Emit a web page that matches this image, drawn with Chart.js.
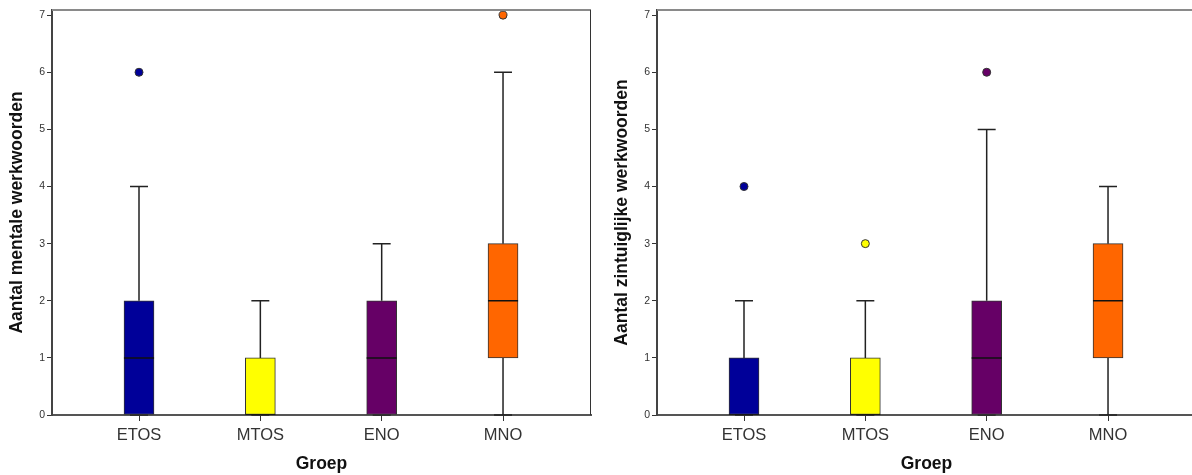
<!DOCTYPE html>
<html>
<head>
<meta charset="utf-8">
<script src="https://cdn.jsdelivr.net/npm/chart.js@4/dist/chart.umd.min.js"></script>
<style>
  html, body { margin: 0; padding: 0; background: #fff; overflow: hidden; width: 1192px; height: 475px; }
  canvas { position: absolute; top: 0; }
  #links { left: 0; }
  #rechts { left: 605px; }
</style>
</head>
<body>
<canvas id="links" width="600" height="475"></canvas>
<canvas id="rechts" width="600" height="475"></canvas>
<script>
const groepen = ["ETOS", "MTOS", "ENO", "MNO"];
const kleuren = ["#000099", "#ffff00", "#660066", "#ff6600"];
const yTicks = [0, 1, 2, 3, 4, 5, 6, 7];

// Aantal mentale werkwoorden
const mentaalMin = [0, 0, 0, 0];
const mentaalQ1 = [0, 0, 0, 1];
const mentaalMediaan = [1, 0, 1, 2];
const mentaalQ3 = [2, 1, 2, 3];
const mentaalMax = [4, 2, 3, 6];
const mentaalUitschieters = [[6], [], [], [7]];

// Aantal zintuiglijke werkwoorden
const zintuigMin = [0, 0, 0, 0];
const zintuigQ1 = [0, 0, 0, 1];
const zintuigMediaan = [0, 0, 1, 2];
const zintuigQ3 = [1, 1, 2, 3];
const zintuigMax = [2, 2, 5, 4];
const zintuigUitschieters = [[4], [3], [6], []];

const halfBox = 0.124;
const halfCap = 0.074;
const fontFam = "'Liberation Sans', Arial, sans-serif";

const kader = {
  id: "kader",
  afterDraw(chart) {
    const a = chart.chartArea, ctx = chart.ctx;
    ctx.save();
    ctx.strokeStyle = "#8a8a8a";
    ctx.lineWidth = 2;
    ctx.beginPath();
    ctx.moveTo(a.left, a.top);
    ctx.lineTo(a.right, a.top);
    ctx.stroke();
    ctx.strokeStyle = "#333";
    ctx.lineWidth = 1;
    ctx.beginPath();
    ctx.moveTo(a.right - 0.5, a.top);
    ctx.lineTo(a.right - 0.5, a.bottom);
    ctx.stroke();
    ctx.restore();
  }
};

function boxplot(id, titel, mins, q1, med, q3, maxs, uit) {
  const snorren = [];
  groepen.forEach((g, i) => {
    snorren.push({ x: i, y: q3[i] }, { x: i, y: maxs[i] }, { x: i, y: null });
    snorren.push({ x: i, y: mins[i] }, { x: i, y: q1[i] }, { x: i, y: null });
    snorren.push({ x: i - halfCap, y: maxs[i] }, { x: i + halfCap, y: maxs[i] }, { x: i, y: null });
    snorren.push({ x: i - halfCap, y: mins[i] }, { x: i + halfCap, y: mins[i] }, { x: i, y: null });
  });
  const medianen = [];
  groepen.forEach((g, i) => {
    medianen.push({ x: i - halfBox, y: med[i] }, { x: i + halfBox, y: med[i] }, { x: i, y: null });
  });
  const punten = [], puntKleur = [];
  uit.forEach((lijst, i) => lijst.forEach(v => { punten.push({ x: i, y: v }); puntKleur.push(kleuren[i]); }));

  new Chart(document.getElementById(id), {
    type: "bar",
    data: {
      datasets: [
        {
          type: "line",
          data: snorren,
          borderColor: "#222",
          borderWidth: 1.5,
          pointRadius: 0,
          spanGaps: false,
          clip: false,
          order: 3
        },
        {
          type: "bar",
          data: groepen.map((g, i) => ({ x: i, y: [q1[i], q3[i]] })),
          backgroundColor: kleuren,
          borderColor: "#333",
          borderWidth: 1,
          borderSkipped: false,
          barThickness: 30,
          order: 2
        },
        {
          type: "line",
          data: medianen,
          borderColor: "#111",
          borderWidth: 1.5,
          pointRadius: 0,
          spanGaps: false,
          order: 1
        },
        {
          type: "line",
          data: punten,
          showLine: false,
          pointRadius: 4,
          pointBackgroundColor: puntKleur,
          pointBorderColor: "#333",
          pointBorderWidth: 1,
          clip: false,
          order: 0
        }
      ]
    },
    options: {
      responsive: false,
      animation: false,
      layout: { padding: { top: 10, right: 9, left: 0, bottom: 0 } },
      plugins: { legend: { display: false }, tooltip: { enabled: false } },
      scales: {
        x: {
          type: "linear",
          min: -0.717,
          max: 3.725,
          offset: false,
          afterBuildTicks: s => { s.ticks = groepen.map((g, i) => ({ value: i })); },
          afterFit: s => { s.height = 60; },
          ticks: {
            callback: v => groepen[v],
            font: { family: fontFam, size: 16.5 },
            color: "#333",
            padding: 5,
            maxRotation: 0
          },
          grid: { offset: false, drawOnChartArea: false, drawTicks: true, tickLength: 6, color: "#333" },
          border: { color: "#555", width: 2 },
          title: {
            display: true,
            text: "Groep",
            font: { family: fontFam, size: 17.5, weight: "bold" },
            color: "#111",
            padding: { top: 0, bottom: 0 }
          }
        },
        y: {
          min: 0,
          max: 7.09,
          afterBuildTicks: s => { s.ticks = yTicks.map(v => ({ value: v })); },
          afterFit: s => { s.width = 52; },
          ticks: {
            font: { family: fontFam, size: 10.5 },
            color: "#333",
            padding: 2
          },
          grid: { drawOnChartArea: false, drawTicks: true, tickLength: 5, color: "#333" },
          border: { color: "#444", width: 2 },
          title: {
            display: true,
            text: titel,
            font: { family: fontFam, size: 17.5, weight: "bold" },
            color: "#111",
            padding: { top: 7, bottom: 0 }
          }
        }
      }
    },
    plugins: [kader]
  });
}

boxplot("links", "Aantal mentale werkwoorden", mentaalMin, mentaalQ1, mentaalMediaan, mentaalQ3, mentaalMax, mentaalUitschieters);
boxplot("rechts", "Aantal zintuiglijke werkwoorden", zintuigMin, zintuigQ1, zintuigMediaan, zintuigQ3, zintuigMax, zintuigUitschieters);
</script>
</body>
</html>
